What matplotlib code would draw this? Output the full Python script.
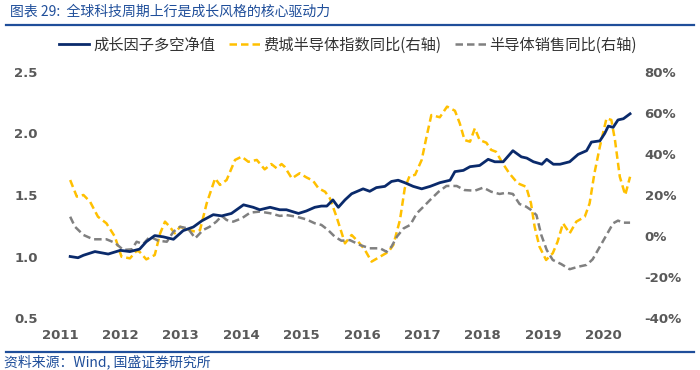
import matplotlib
matplotlib.use("Agg")
import matplotlib.pyplot as plt
from matplotlib.lines import Line2D

plt.rcParams['font.family'] = ['Noto Sans CJK SC', 'DejaVu Sans']

title = "图表 29:  全球科技周期上行是成长风格的核心驱动力"
source = "资料来源：Wind, 国盛证券研究所"
labels = ["成长因子多空净值", "费城半导体指数同比(右轴)", "半导体销售同比(右轴)"]

years = [2011, 2012, 2013, 2014, 2015, 2016, 2017, 2018, 2019, 2020]
left_ticks = [0.5, 1.0, 1.5, 2.0, 2.5]
right_ticks = [-40, -20, 0, 20, 40, 60, 80]

growth_x = [2011.17, 2011.30, 2011.39, 2011.58, 2011.80, 2012.00, 2012.16, 2012.32, 2012.43, 2012.57,
            2012.71, 2012.88, 2013.04, 2013.21, 2013.35, 2013.54, 2013.68, 2013.84, 2014.04, 2014.20,
            2014.31, 2014.48, 2014.64, 2014.75, 2014.95, 2015.08, 2015.22, 2015.33, 2015.42, 2015.52,
            2015.61, 2015.72, 2015.83, 2016.02, 2016.13, 2016.24, 2016.38, 2016.49, 2016.60, 2016.71,
            2016.85, 2016.99, 2017.13, 2017.29, 2017.46, 2017.54, 2017.68, 2017.79, 2017.95, 2018.09,
            2018.20, 2018.34, 2018.50, 2018.64, 2018.73, 2018.84, 2018.98, 2019.06, 2019.17, 2019.28,
            2019.44, 2019.58, 2019.72, 2019.80, 2019.94, 2020.02, 2020.08, 2020.16, 2020.24, 2020.33,
            2020.44]
growth_y = [1.00, 0.99, 1.01, 1.04, 1.02, 1.05, 1.04, 1.06, 1.12, 1.17,
            1.16, 1.14, 1.21, 1.24, 1.29, 1.34, 1.33, 1.35, 1.42, 1.40,
            1.38, 1.40, 1.38, 1.38, 1.35, 1.37, 1.40, 1.41, 1.41, 1.46,
            1.40, 1.46, 1.51, 1.55, 1.53, 1.56, 1.57, 1.61, 1.62, 1.60,
            1.57, 1.55, 1.57, 1.60, 1.62, 1.69, 1.70, 1.73, 1.74, 1.79,
            1.77, 1.77, 1.86, 1.81, 1.80, 1.77, 1.75, 1.79, 1.75, 1.75,
            1.77, 1.83, 1.86, 1.93, 1.94, 2.00, 2.06, 2.05, 2.11, 2.12,
            2.16]

sox_x = [2011.17, 2011.28, 2011.39, 2011.50, 2011.63, 2011.77, 2011.91, 2012.02, 2012.16, 2012.27,
         2012.32, 2012.43, 2012.57, 2012.66, 2012.74, 2012.82, 2012.90, 2012.99, 2013.10, 2013.24,
         2013.32, 2013.43, 2013.57, 2013.65, 2013.76, 2013.90, 2014.01, 2014.12, 2014.26, 2014.39,
         2014.50, 2014.59, 2014.67, 2014.72, 2014.84, 2014.97, 2015.08, 2015.19, 2015.28, 2015.39,
         2015.47, 2015.58, 2015.72, 2015.83, 2015.94, 2016.05, 2016.16, 2016.30, 2016.44, 2016.52,
         2016.63, 2016.71, 2016.79, 2016.88, 2016.99, 2017.07, 2017.15, 2017.29, 2017.41, 2017.54,
         2017.62, 2017.70, 2017.79, 2017.87, 2017.95, 2018.06, 2018.14, 2018.22, 2018.33, 2018.44,
         2018.58, 2018.72, 2018.80, 2018.86, 2018.94, 2019.05, 2019.16, 2019.24, 2019.33, 2019.44,
         2019.55, 2019.69, 2019.77, 2019.85, 2019.94, 2020.05, 2020.13, 2020.19, 2020.27, 2020.36,
         2020.44]
sox_y = [27.3, 19.2, 20.0, 16.7, 9.4, 6.2, -0.3, -10.1, -10.9, -7.2,
         -7.7, -11.4, -9.3, 1.3, 7.0, 4.5, 1.3, 4.5, 3.3, 2.1,
         2.9, 15.9, 28.1, 24.9, 27.3, 37.1, 38.7, 36.2, 37.1, 32.5,
         35.1, 33.0, 35.1, 33.8, 28.1, 30.6, 28.6, 27.0, 23.3, 21.6,
         18.4, 9.4, -3.6, 0.5, -2.8, -6.8, -12.5, -10.1, -7.7, -4.4,
         7.8, 23.3, 29.3, 29.8, 37.1, 48.4, 59.0, 57.9, 63.1, 61.1,
         55.0, 46.8, 46.0, 52.5, 46.8, 45.5, 42.0, 41.1, 35.5, 30.6,
         25.7, 24.0, 15.9, 4.5, -5.2, -11.7, -8.4, -2.8, 6.2, 1.3,
         7.0, 9.4, 15.9, 30.6, 43.6, 57.4, 56.6, 46.8, 28.9, 20.0,
         28.9]

sales_x = [2011.17, 2011.25, 2011.39, 2011.55, 2011.77, 2011.91, 2012.05, 2012.19, 2012.27, 2012.38,
           2012.49, 2012.63, 2012.77, 2012.88, 2012.99, 2013.12, 2013.24, 2013.37, 2013.48, 2013.59,
           2013.68, 2013.76, 2013.87, 2014.01, 2014.15, 2014.31, 2014.48, 2014.64, 2014.75, 2014.92,
           2015.08, 2015.22, 2015.33, 2015.44, 2015.55, 2015.66, 2015.80, 2015.97, 2016.13, 2016.30,
           2016.41, 2016.49, 2016.58, 2016.69, 2016.80, 2016.91, 2017.02, 2017.13, 2017.27, 2017.40,
           2017.57, 2017.70, 2017.87, 2018.01, 2018.14, 2018.28, 2018.39, 2018.50, 2018.61, 2018.72,
           2018.80, 2018.89, 2018.97, 2019.06, 2019.16, 2019.30, 2019.44, 2019.58, 2019.72, 2019.82,
           2019.94, 2020.05, 2020.16, 2020.24, 2020.33, 2020.44]
sales_y = [9.4, 4.5, 0.5, -1.6, -1.6, -3.3, -6.8, -6.5, -2.8, -3.9,
           -0.3, -2.3, -2.8, 2.1, 4.5, 3.7, -1.1, 2.9, 4.5, 7.0,
           9.8, 7.8, 7.0, 8.6, 11.4, 11.9, 11.1, 9.8, 10.2, 9.4,
           8.1, 6.2, 5.4, 2.9, -0.3, -2.3, -2.0, -4.4, -6.0, -6.0,
           -7.7, -5.2, -0.3, 3.7, 5.4, 11.1, 14.3, 17.6, 21.6, 24.4,
           24.4, 22.4, 22.1, 23.6, 21.6, 20.5, 21.1, 20.5, 15.6, 14.3,
           12.7, 10.2, 0.5, -6.8, -11.7, -13.7, -16.2, -15.0, -14.1, -11.4,
           -5.2, 0.5, 6.2, 7.5, 6.5, 6.5]

NAVY = "#0A2A6B"
YELLOW = "#FFC000"
GRAY = "#808080"
TICK = "#595959"
BLUE = "#1F4E9A"

fig = plt.figure(figsize=(7, 3.7), dpi=100)
ax = fig.add_axes([0.064, 0.1405, 0.843, 0.665])
ax2 = ax.twinx()

ax.plot(growth_x, growth_y, color=NAVY, lw=2.0, zorder=3)
ax2.plot(sox_x, sox_y, color=YELLOW, lw=1.8, dashes=(3, 1.6))
ax2.plot(sales_x, sales_y, color=GRAY, lw=1.8, dashes=(3, 1.6))
ax.set_zorder(ax2.get_zorder() + 1)
ax.patch.set_visible(False)

ax.set_xlim(2010.75, 2020.52)
ax.set_ylim(0.5, 2.5)
ax2.set_ylim(-40, 80)
ax.set_xticks(years)
ax.set_xticklabels([str(y) for y in years])
ax.set_yticks(left_ticks)
ax.set_yticklabels([f"{v:.1f}" for v in left_ticks])
ax2.set_yticks(right_ticks)
ax2.set_yticklabels([f"{v}%" for v in right_ticks])

for a in (ax, ax2):
    for s in a.spines.values():
        s.set_visible(False)
    a.tick_params(length=0, colors=TICK, labelsize=9.5)
    for lab in a.get_xticklabels() + a.get_yticklabels():
        lab.set_fontfamily('DejaVu Sans')
        lab.set_fontweight('bold')
ax.tick_params(axis='y', pad=5)
ax.tick_params(axis='x', pad=8)
ax2.tick_params(axis='y', pad=7)

handles = [Line2D([], [], color=NAVY, lw=2.0),
           Line2D([], [], color=YELLOW, lw=1.8, dashes=(3, 1.6)),
           Line2D([], [], color=GRAY, lw=1.8, dashes=(3, 1.6))]
fig.legend(handles, labels, loc='center', bbox_to_anchor=(0.497, 1 - 45 / 370), ncol=3,
           frameon=False, fontsize=11, handlelength=2.0, handletextpad=0.25, columnspacing=0.9,
           labelcolor='#333333')

fig.text(0.014, 1 - 12 / 370, title, color=BLUE, fontsize=10, style='italic', va='center', ha='left')
fig.add_artist(Line2D([0.008, 0.992], [1 - 25 / 370, 1 - 25 / 370], color=BLUE, lw=1.6,
                      transform=fig.transFigure))
fig.add_artist(Line2D([0.008, 0.992], [1 - 352 / 370, 1 - 352 / 370], color=BLUE, lw=1.6,
                      transform=fig.transFigure))
fig.text(0.005, 1 - 362 / 370, source, color=BLUE, fontsize=10, style='italic', va='center', ha='left')

fig.savefig("out.png", dpi=100)
